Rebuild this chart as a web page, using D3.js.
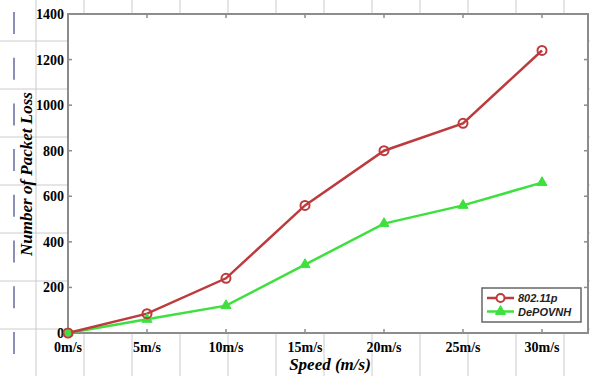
<!DOCTYPE html>
<html>
<head>
<meta charset="utf-8">
<script src="https://cdn.jsdelivr.net/npm/d3@7"></script>
<style>
  body { margin: 0; background: #fff; }
  svg { display: block; }
</style>
</head>
<body>
<div id="chart"></div>
<script>
// Dados do gráfico
const speeds = ["0m/s", "5m/s", "10m/s", "15m/s", "20m/s", "25m/s", "30m/s"];
const loss80211p = [0, 85, 240, 560, 800, 920, 1240];
const lossDePOVNH = [0, 60, 120, 300, 480, 560, 660];
const yTicks = [0, 200, 400, 600, 800, 1000, 1200, 1400];
const seriesNames = ["802.11p", "DePOVNH"];

const width = 590;
const height = 376;
const plot = { left: 68, top: 14, right: 588, bottom: 333 };

const svg = d3.select("#chart").append("svg")
  .attr("width", width)
  .attr("height", height);

// Grade de fundo (papel)
const bgGrid = svg.append("g");
d3.range(36, width, 48).forEach((x) => {
  bgGrid.append("line").attr("x1", x).attr("x2", x).attr("y1", 0).attr("y2", height)
    .attr("stroke", "#cccccc").attr("stroke-width", 1);
});
d3.range(41, height, 48).forEach((y) => {
  bgGrid.append("line").attr("x1", 0).attr("x2", width).attr("y1", y).attr("y2", y)
    .attr("stroke", "#cccccc").attr("stroke-width", 1);
});
d3.range(12, height - 10, 45.7).forEach((y) => {
  bgGrid.append("line").attr("x1", 14).attr("x2", 14).attr("y1", y).attr("y2", y + 22)
    .attr("stroke", "#8a8fb5").attr("stroke-width", 2);
});

// Escalas
const x = d3.scaleLinear().domain([0, 6]).range([plot.left, 542]);
const y = d3.scaleLinear().domain([0, 1400]).range([plot.bottom, plot.top]);

// Área do gráfico
svg.append("rect")
  .attr("x", plot.left).attr("y", plot.top)
  .attr("width", plot.right - plot.left).attr("height", plot.bottom - plot.top)
  .attr("fill", "#fff")
  .attr("stroke", "#8c8c8c").attr("stroke-width", 2);

// Marcas de escala (internas)
const ticks = svg.append("g").attr("stroke", "#8c8c8c").attr("stroke-width", 1.5);
speeds.forEach((s, i) => {
  if (i === 0) return;
  ticks.append("line").attr("x1", x(i)).attr("x2", x(i)).attr("y1", plot.bottom).attr("y2", plot.bottom - 4);
  ticks.append("line").attr("x1", x(i)).attr("x2", x(i)).attr("y1", plot.top).attr("y2", plot.top + 4);
});
yTicks.forEach((t) => {
  if (t === 0 || t === 1400) return;
  ticks.append("line").attr("x1", plot.left).attr("x2", plot.left + 4).attr("y1", y(t)).attr("y2", y(t));
  ticks.append("line").attr("x1", plot.right).attr("x2", plot.right - 4).attr("y1", y(t)).attr("y2", y(t));
});

// Rótulos dos eixos
svg.append("g")
  .selectAll("text")
  .data(yTicks)
  .enter()
  .append("text")
  .attr("x", plot.left - 4)
  .attr("y", (d) => y(d) + 5)
  .attr("text-anchor", "end")
  .style("font", "bold 14px 'Liberation Serif', 'Times New Roman', serif")
  .text((d) => d);

svg.append("g")
  .selectAll("text")
  .data(speeds)
  .enter()
  .append("text")
  .attr("x", (d, i) => x(i))
  .attr("y", 352)
  .attr("text-anchor", "middle")
  .style("font", "bold 14px 'Liberation Serif', 'Times New Roman', serif")
  .text((d) => d);

svg.append("text")
  .attr("x", 330)
  .attr("y", 370)
  .attr("text-anchor", "middle")
  .style("font", "italic bold 17px 'Liberation Serif', 'Times New Roman', serif")
  .text("Speed (m/s)");

svg.append("text")
  .attr("transform", "translate(32,174) rotate(-90)")
  .attr("text-anchor", "middle")
  .style("font", "italic bold 17px 'Liberation Serif', 'Times New Roman', serif")
  .text("Number of Packet Loss");

// Linhas
const line = d3.line()
  .x((d, i) => x(i))
  .y((d) => y(d));

const red = "#bd3a3d";
const green = "#3ee03e";

svg.append("path")
  .datum(lossDePOVNH)
  .attr("d", line)
  .style("fill", "none")
  .style("stroke", green)
  .style("stroke-width", 2.5);

svg.append("path")
  .datum(loss80211p)
  .attr("d", line)
  .style("fill", "none")
  .style("stroke", red)
  .style("stroke-width", 2.5);

const tri = d3.symbol().type(d3.symbolTriangle).size(45);

svg.selectAll(".pt-green")
  .data(lossDePOVNH)
  .enter()
  .append("path")
  .attr("class", "pt-green")
  .attr("d", tri)
  .attr("transform", (d, i) => `translate(${x(i)},${y(d)})`)
  .style("fill", green)
  .style("stroke", green);

svg.selectAll(".pt-red")
  .data(loss80211p)
  .enter()
  .append("circle")
  .attr("class", "pt-red")
  .attr("cx", (d, i) => x(i))
  .attr("cy", (d) => y(d))
  .attr("r", 4.5)
  .style("fill", "none")
  .style("stroke", red)
  .style("stroke-width", 2);

// Legenda
const legend = svg.append("g").attr("transform", "translate(482,288)");
legend.append("rect")
  .attr("width", 99).attr("height", 34)
  .attr("fill", "#fff")
  .attr("stroke", "#666").attr("stroke-width", 1.5);

const colors = [red, green];
seriesNames.forEach((name, i) => {
  const yy = 10 + i * 13.5;
  legend.append("line")
    .attr("x1", 5).attr("x2", 32).attr("y1", yy).attr("y2", yy)
    .attr("stroke", colors[i]).attr("stroke-width", 2.5);
  if (i === 0) {
    legend.append("circle").attr("cx", 18.5).attr("cy", yy).attr("r", 4)
      .style("fill", "#fff").style("stroke", red).style("stroke-width", 2);
  } else {
    legend.append("path").attr("d", tri).attr("transform", `translate(18.5,${yy})`)
      .style("fill", green).style("stroke", green);
  }
  legend.append("text")
    .attr("x", 36).attr("y", yy + 4)
    .style("font", "italic bold 11px 'Liberation Sans', Arial, sans-serif")
    .style("fill", "#222")
    .text(name);
});
</script>
</body>
</html>
